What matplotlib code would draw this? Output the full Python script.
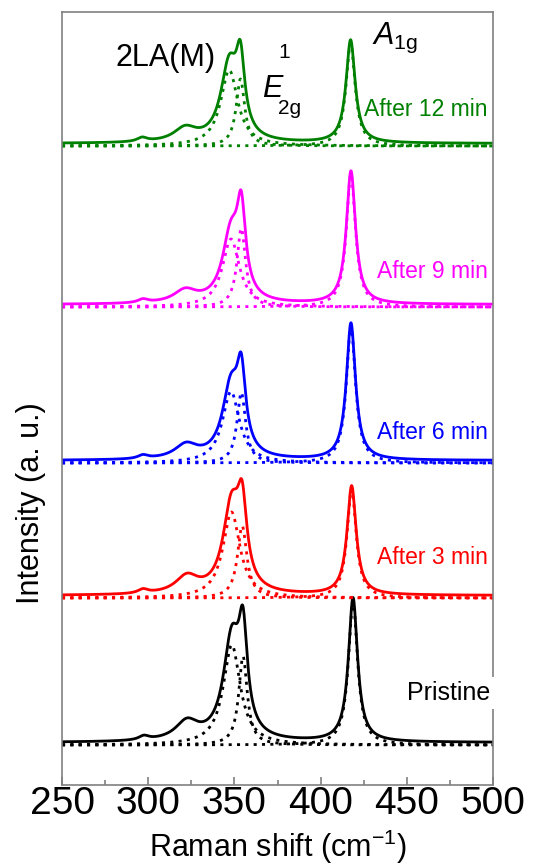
import numpy as np
import matplotlib
matplotlib.use("Agg")
import matplotlib.pyplot as plt
from matplotlib.ticker import MultipleLocator

plt.rcParams['font.family'] = ['Liberation Sans', 'DejaVu Sans']
plt.rcParams['mathtext.fontset'] = 'custom'
plt.rcParams['mathtext.rm'] = 'Liberation Sans'
plt.rcParams['mathtext.it'] = 'Liberation Sans:italic'

# samples, bottom to top
labels = ["Pristine", "After 3 min", "After 6 min", "After 9 min", "After 12 min"]
colors = ["#000000", "#ff0000", "#0000ff", "#ff00ff", "#008000"]
offsets = [40, 187, 322, 478, 639]
label_y = [92, 228, 353, 513, 675]
background = [2.5, 2.5, 2.5, 2.5, 2.5]

# fitted Lorentzian components (centre, height, half width)
la_pos = [348.5, 348.3, 348.0, 348.0, 347.0]
la_amp = [100, 86, 71.5, 68, 76]
la_hw = [6.0, 6.0, 6.0, 6.0, 6.0]

e2g_pos = [355.0, 354.5, 354.0, 354.0, 353.5]
e2g_amp = [88.6, 72, 70.5, 78.7, 67]
e2g_hw = [3.0, 3.3, 3.0, 3.0, 3.0]

a1g_pos = [418.8, 418.0, 417.6, 417.6, 417.4]
a1g_amp = [144, 109, 137, 133, 103]
a1g_hw = [3.2, 3.2, 3.2, 3.2, 3.2]

# weaker second-order bands (not fitted separately)
b1_pos = [297.5, 297.0, 297.0, 297.0, 296.5]
b1_amp = [4, 4, 3.5, 3.5, 4]
b2_pos = [322.5, 322.5, 322.0, 321.5, 321.5]
b2_amp = [18.5, 17, 14, 12.5, 13.5]

shift = np.linspace(250, 500, 1251)


def lorentz(x, x0, amp, hw):
    return amp * hw ** 2 / ((x - x0) ** 2 + hw ** 2)


fig = plt.figure(figsize=(5.6, 8.68), dpi=100)
ax = fig.add_axes([62 / 560, 1 - 785 / 868, 431 / 560, 773 / 868])

dot = (0, (1.1, 1.9))
for i in range(len(labels)):
    c = colors[i]
    y0 = offsets[i]
    comps = [
        lorentz(shift, la_pos[i], la_amp[i], la_hw[i]),
        lorentz(shift, e2g_pos[i], e2g_amp[i], e2g_hw[i]),
        lorentz(shift, a1g_pos[i], a1g_amp[i], a1g_hw[i]),
    ]
    weak = (lorentz(shift, b1_pos[i], b1_amp[i], 3.5)
            + lorentz(shift, b2_pos[i], b2_amp[i], 8.0))
    total = y0 + background[i] + sum(comps) + weak
    for comp in comps:
        ax.plot(shift, y0 + comp, color=c, lw=2.0, ls=dot)
    ax.plot(shift, total, color=c, lw=2.0)

    if i == 0:
        ax.text(498.3, label_y[i], labels[i], color=c, fontsize=18,
                ha='right', va='center',
                bbox=dict(fc='white', ec='none', pad=3))
    else:
        ax.text(497, label_y[i], labels[i], color=c, fontsize=16.5,
                ha='right', va='center')

# peak assignments
ax.text(310, 727, "2LA(M)", fontsize=22, ha='center', va='center')
ax.text(366, 696, "E", fontsize=22, style='italic', ha='left', va='center')
ax.text(375.5, 733, "1", fontsize=15, ha='left', va='center')
ax.text(375.5, 677, "2g", fontsize=15, ha='left', va='center')
ax.text(430, 747, r"$A_{\mathrm{1g}}$", fontsize=22, ha='left', va='center')

ax.set_xlim(250, 500)
ax.set_ylim(0, 773)
ax.set_yticks([])
ax.xaxis.set_major_locator(MultipleLocator(50))
ax.xaxis.set_minor_locator(MultipleLocator(25))
ax.tick_params(axis='x', which='both', direction='in', color='#808080',
               labelsize=28, pad=1)
ax.tick_params(axis='x', which='major', length=6, width=1.2)
ax.tick_params(axis='x', which='minor', length=3.5, width=1.2)
for s in ax.spines.values():
    s.set_color('#808080')
    s.set_linewidth(1.2)

ax.set_xlabel("Raman shift (cm$^{\u22121}$)", fontsize=22, labelpad=4)
ax.set_ylabel("Intensity (a. u.)", fontsize=22)
ax.yaxis.set_label_coords(-0.037, 0.365)

fig.savefig("out.png", dpi=100)
